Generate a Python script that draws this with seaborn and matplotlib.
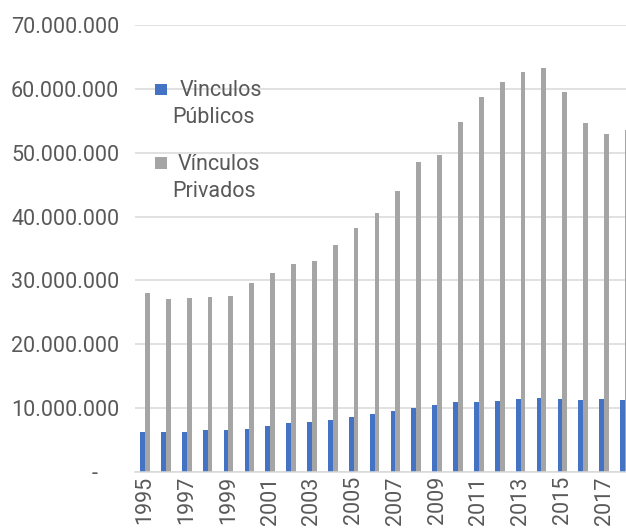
import matplotlib
matplotlib.use("Agg")
import matplotlib.pyplot as plt
from matplotlib.patches import Rectangle
import seaborn as sns
import pandas as pd
import numpy as np

years = [str(y) for y in range(1995, 2019)]
publicos = [6.33, 6.28, 6.22, 6.60, 6.65, 6.81, 7.18, 7.60, 7.88, 8.13, 8.56, 9.09,
            9.63, 10.00, 10.43, 10.90, 10.95, 11.10, 11.48, 11.54, 11.38, 11.27, 11.38, 11.22]
privados = [27.97, 27.07, 27.30, 27.40, 27.60, 29.60, 31.20, 32.50, 33.10, 35.60, 38.20, 40.60,
            44.00, 48.60, 49.60, 54.80, 58.80, 61.00, 62.60, 63.30, 59.50, 54.60, 52.90, 53.60]
series_names = ["Vinculos Públicos", "Vínculos Privados"]
legend_lines = [["Vinculos", "Públicos"], ["Vínculos", "Privados"]]
yticks = [0, 10_000_000, 20_000_000, 30_000_000, 40_000_000, 50_000_000, 60_000_000, 70_000_000]
colors = ["#4472C4", "#A5A5A5"]

df = pd.DataFrame({
    "ano": years * 2,
    "valor": [v * 1e6 for v in publicos] + [v * 1e6 for v in privados],
    "serie": [series_names[0]] * len(years) + [series_names[1]] * len(years),
})

sns.set_style("white")
plt.rcParams["font.family"] = ["Roboto", "DejaVu Sans"]
TXT = "#595959"
FS = 15.5

W, H = 626, 529
fig = plt.figure(figsize=(W / 100, H / 100), dpi=100)
ax_left, ax_right, ax_bottom, ax_top = 134.6, 626, 472, 25
ax = fig.add_axes([ax_left / W, 1 - ax_bottom / H, (ax_right - ax_left) / W, (ax_bottom - ax_top) / H])

sns.barplot(data=df, x="ano", y="valor", hue="serie", palette=colors, width=0.46,
            dodge=True, ax=ax, legend=False, saturation=1, edgecolor="none")

ax.set_xlim(-0.5, 23.05)
ax.set_ylim(0, 70_000_000)
ax.set_yticks(yticks)
ax.set_yticklabels(["-    "] + [f"{v:,}".replace(",", ".") for v in yticks[1:]],
                   fontsize=FS, color=TXT)
ax.set_xticks(range(len(years)))
ax.set_xticklabels([y if i % 2 == 0 else "" for i, y in enumerate(years)],
                   rotation=90, fontsize=FS, color=TXT)
ax.tick_params(axis="y", length=0, pad=11)
ax.tick_params(axis="x", length=0, pad=3)
ax.set_xlabel("")
ax.set_ylabel("")
ax.yaxis.grid(True, color="#D9D9D9", linewidth=1.1)
ax.set_axisbelow(True)
for s in ["top", "right", "left"]:
    ax.spines[s].set_visible(False)
ax.spines["bottom"].set_color("#D9D9D9")
ax.spines["bottom"].set_linewidth(1.1)

# legend (manual, Excel style)
sq = [(155, 84), (155, 157.3)]
baselines = [(96.5, 123.2), (170, 196.7)]
xstarts = [(179.3, 172.3), (177.7, 172.7)]
for i in range(2):
    x0, y0 = sq[i]
    fig.patches.append(Rectangle((x0 / W, 1 - (y0 + 11.3) / H), 11.5 / W, 11.3 / H,
                                 transform=fig.transFigure, facecolor=colors[i],
                                 edgecolor="none"))
    for j in range(2):
        fig.text(xstarts[i][j] / W, 1 - baselines[i][j] / H, legend_lines[i][j],
                 fontsize=FS, color=TXT, va="baseline", ha="left")

fig.savefig("out.png", dpi=100)
